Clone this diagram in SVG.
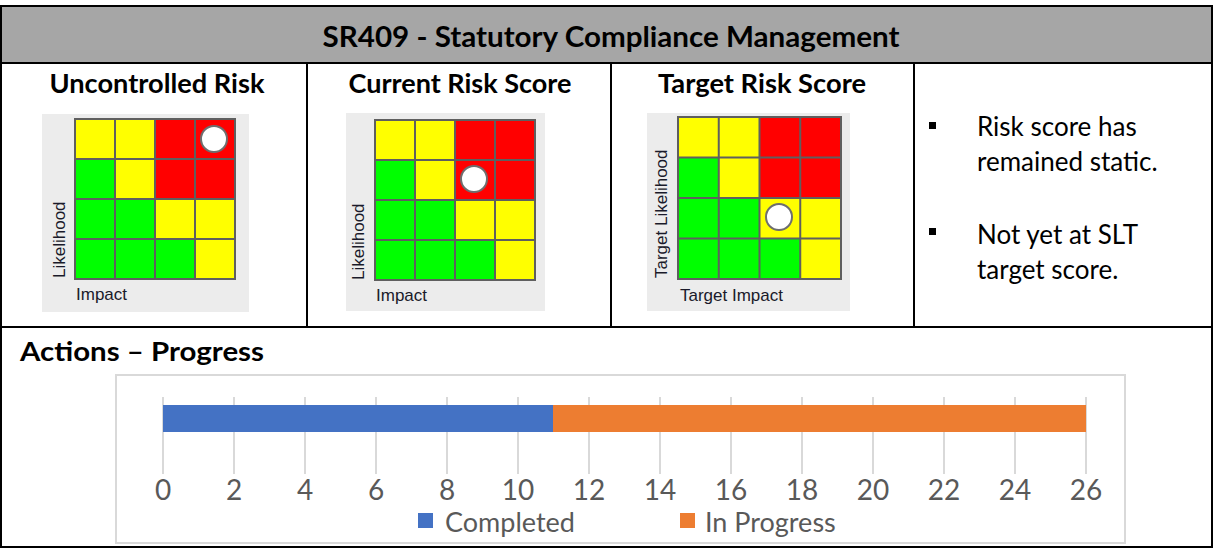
<svg xmlns="http://www.w3.org/2000/svg" width="1214" height="549" viewBox="0 0 1214 549">
<style>
.t{font-family:Lato,"Liberation Sans",sans-serif;fill:#000}
.b{font-weight:bold}
.ax{font-family:"Liberation Sans",Arial,sans-serif;font-size:17px;fill:#1a1a2a}
.y{fill:#ffff00}.r{fill:#ff0000}.g{fill:#00ff00}
.grid{stroke:#5f5f5f;stroke-width:2;fill:none}
.mbg{fill:#ececec}
.dot{fill:#fff;stroke:#6e6e6e;stroke-width:2}
.tick{font-family:Lato,"Liberation Sans",sans-serif;font-size:28px;fill:#595959;text-anchor:middle}
.leg{font-family:Lato,"Liberation Sans",sans-serif;font-size:27px;fill:#595959}
.gl{stroke:#d9d9d9;stroke-width:2}
</style>
<defs>
<g id="cells">
<rect class="y" x="0" y="0" width="1" height="1"/><rect class="y" x="1" y="0" width="1" height="1"/><rect class="r" x="2" y="0" width="1" height="1"/><rect class="r" x="3" y="0" width="1" height="1"/>
<rect class="g" x="0" y="1" width="1" height="1"/><rect class="y" x="1" y="1" width="1" height="1"/><rect class="r" x="2" y="1" width="1" height="1"/><rect class="r" x="3" y="1" width="1" height="1"/>
<rect class="g" x="0" y="2" width="1" height="1"/><rect class="g" x="1" y="2" width="1" height="1"/><rect class="y" x="2" y="2" width="1" height="1"/><rect class="y" x="3" y="2" width="1" height="1"/>
<rect class="g" x="0" y="3" width="1" height="1"/><rect class="g" x="1" y="3" width="1" height="1"/><rect class="g" x="2" y="3" width="1" height="1"/><rect class="y" x="3" y="3" width="1" height="1"/>
</g>
</defs>

<g id="table">
<rect x="1" y="6" width="1211" height="57" fill="#a6a6a6"/>
<rect x="1" y="6" width="1211" height="541" fill="none" stroke="#000" stroke-width="2"/>
<line x1="1" y1="63" x2="1212" y2="63" stroke="#000" stroke-width="2"/>
<line x1="1" y1="327" x2="1212" y2="327" stroke="#000" stroke-width="2"/>
<line x1="307" y1="63" x2="307" y2="327" stroke="#000" stroke-width="2"/>
<line x1="611" y1="63" x2="611" y2="327" stroke="#000" stroke-width="2"/>
<line x1="914" y1="63" x2="914" y2="327" stroke="#000" stroke-width="2"/>
<text class="t b" x="611" y="47" font-size="29" text-anchor="middle" textLength="577" lengthAdjust="spacingAndGlyphs">SR409 - Statutory Compliance Management</text>
</g>

<g id="uncontrolled">
<text class="t b" x="157" y="93" font-size="26" text-anchor="middle" textLength="215" lengthAdjust="spacingAndGlyphs">Uncontrolled Risk</text>
<rect class="mbg" x="42" y="114" width="207" height="198"/>
<use href="#cells" transform="translate(75,119) scale(40,40)"/>
<path class="grid" d="M75 119H235V279H75Z M115 119V279 M155 119V279 M195 119V279 M75 159H235 M75 199H235 M75 239H235"/>
<circle class="dot" cx="214" cy="139" r="13"/>
<text class="ax" transform="translate(65,278) rotate(-90)">Likelihood</text>
<text class="ax" x="76" y="300">Impact</text>
</g>

<g id="current">
<text class="t b" x="460" y="93" font-size="26" text-anchor="middle" textLength="223" lengthAdjust="spacingAndGlyphs">Current Risk Score</text>
<rect class="mbg" x="346" y="113" width="199" height="198"/>
<use href="#cells" transform="translate(375,120) scale(40,40)"/>
<path class="grid" d="M375 120H535V280H375Z M415 120V280 M455 120V280 M495 120V280 M375 160H535 M375 200H535 M375 240H535"/>
<circle class="dot" cx="474" cy="179" r="13"/>
<text class="ax" transform="translate(364,280) rotate(-90)">Likelihood</text>
<text class="ax" x="376" y="301">Impact</text>
</g>

<g id="target">
<text class="t b" x="762" y="93" font-size="26" text-anchor="middle" textLength="208" lengthAdjust="spacingAndGlyphs">Target Risk Score</text>
<rect class="mbg" x="647" y="113" width="203" height="198"/>
<use href="#cells" transform="translate(678,117) scale(40.75,40.5)"/>
<path class="grid" d="M678 117H841V279H678Z M718.75 117V279 M759.5 117V279 M800.25 117V279 M678 157.5H841 M678 198H841 M678 238.5H841"/>
<circle class="dot" cx="779" cy="217" r="13"/>
<text class="ax" transform="translate(667,278) rotate(-90)">Target Likelihood</text>
<text class="ax" x="680" y="301">Target Impact</text>
</g>

<g id="notes">
<rect x="929" y="122" width="7" height="7" fill="#000"/>
<text class="t" x="977" y="136" font-size="26" fill="#222">Risk score has</text>
<text class="t" x="977" y="171" font-size="26" fill="#222">remained static.</text>
<rect x="929" y="228" width="7" height="7" fill="#000"/>
<text class="t" x="977" y="244" font-size="26" fill="#222">Not yet at SLT</text>
<text class="t" x="977" y="279" font-size="26" fill="#222">target score.</text>
</g>

<g id="actions">
<text class="t b" x="20" y="361" font-size="27" textLength="244" lengthAdjust="spacingAndGlyphs">Actions – Progress</text>
<rect x="116" y="375" width="1009" height="168" fill="#fff" stroke="#d9d9d9" stroke-width="2"/>
<g class="gl">
<line x1="163" y1="397" x2="163" y2="474"/><line x1="234" y1="397" x2="234" y2="474"/><line x1="305" y1="397" x2="305" y2="474"/><line x1="376" y1="397" x2="376" y2="474"/><line x1="447" y1="397" x2="447" y2="474"/><line x1="518" y1="397" x2="518" y2="474"/><line x1="589" y1="397" x2="589" y2="474"/><line x1="660" y1="397" x2="660" y2="474"/><line x1="731" y1="397" x2="731" y2="474"/><line x1="802" y1="397" x2="802" y2="474"/><line x1="873" y1="397" x2="873" y2="474"/><line x1="944" y1="397" x2="944" y2="474"/><line x1="1015" y1="397" x2="1015" y2="474"/><line x1="1086" y1="397" x2="1086" y2="474"/>
</g>
<rect x="163" y="405" width="390" height="27" fill="#4472c4"/>
<rect x="553" y="405" width="533" height="27" fill="#ed7d31"/>
<text class="tick" x="163" y="500">0</text><text class="tick" x="234" y="500">2</text><text class="tick" x="305" y="500">4</text><text class="tick" x="376" y="500">6</text><text class="tick" x="447" y="500">8</text><text class="tick" x="518" y="500">10</text><text class="tick" x="589" y="500">12</text><text class="tick" x="660" y="500">14</text><text class="tick" x="731" y="500">16</text><text class="tick" x="802" y="500">18</text><text class="tick" x="873" y="500">20</text><text class="tick" x="944" y="500">22</text><text class="tick" x="1015" y="500">24</text><text class="tick" x="1086" y="500">26</text>
<rect x="418" y="513" width="15" height="15" fill="#4472c4"/>
<text class="leg" x="445" y="532">Completed</text>
<rect x="680" y="513" width="15" height="15" fill="#ed7d31"/>
<text class="leg" x="705" y="532">In Progress</text>
</g>
</svg>
